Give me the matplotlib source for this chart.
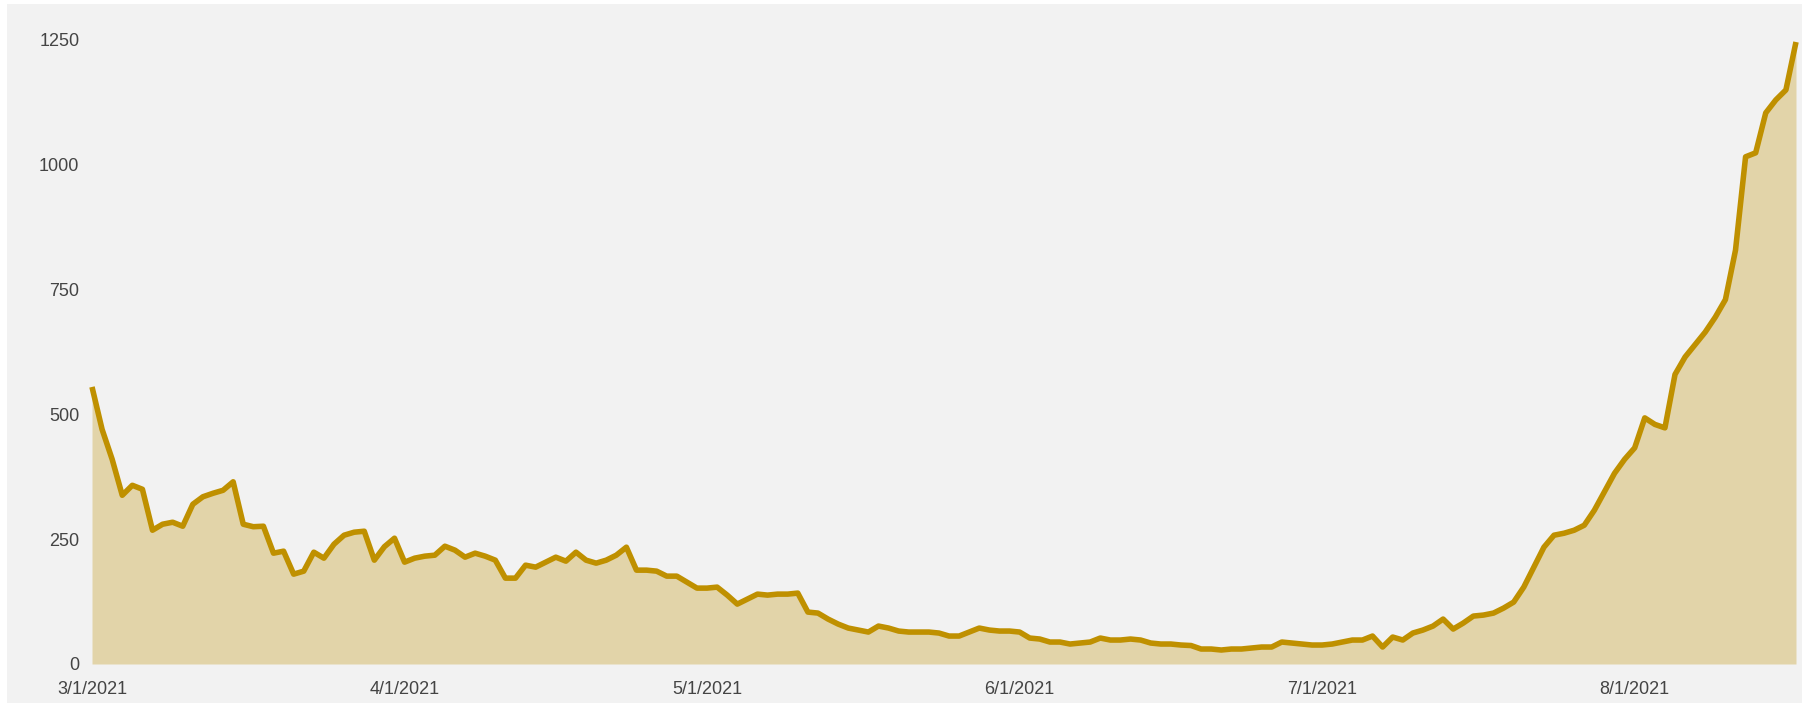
import matplotlib
matplotlib.use("Agg")
import matplotlib.pyplot as plt
from matplotlib.patches import Rectangle
import pandas as pd

start_date = "2021-03-01"
values = [
    555, 470, 410, 338, 358, 350, 268, 280, 284, 276,
    320, 335, 342, 348, 365, 280, 275, 276, 222, 226,
    180, 186, 224, 212, 240, 258, 264, 266, 208, 235,
    252, 204, 212, 216, 218, 236, 228, 214, 222, 216,
    208, 172, 172, 198, 194, 204, 214, 206, 224, 208,
    202, 208, 218, 234, 188, 188, 186, 176, 176, 164,
    152, 152, 154, 138, 120, 130, 140, 138, 140, 140,
    142, 104, 102, 90, 80, 72, 68, 64, 76, 72,
    66, 64, 64, 64, 62, 56, 56, 64, 72, 68,
    66, 66, 64, 52, 50, 44, 44, 40, 42, 44,
    52, 48, 48, 50, 48, 42, 40, 40, 38, 37,
    30, 30, 28, 30, 30, 32, 34, 34, 44, 42,
    40, 38, 38, 40, 44, 48, 48, 56, 34, 54,
    48, 62, 68, 76, 90, 70, 82, 96, 98, 102,
    112, 124, 154, 194, 234, 258, 262, 268, 278, 308,
    345, 382, 410, 433, 493, 480, 473, 580, 615, 640,
    665, 695, 730, 829, 1016, 1024, 1104, 1130, 1150, 1246,
]
ytick_values = [0, 250, 500, 750, 1000, 1250]
xtick_dates = ["2021-03-01", "2021-04-01", "2021-05-01", "2021-06-01", "2021-07-01", "2021-08-01"]
xtick_labels = ["3/1/2021", "4/1/2021", "5/1/2021", "6/1/2021", "7/1/2021", "8/1/2021"]

dates = pd.date_range(start_date, periods=len(values), freq="D")

W, H = 1802, 703
fig = plt.figure(figsize=(W / 100, H / 100), dpi=100)
fig.patch.set_facecolor("white")
bg = Rectangle((7 / W, 0), 1 - 7 / W, 1 - 4 / H, transform=fig.transFigure,
               facecolor="#f2f2f2", edgecolor="none", zorder=-10)
fig.add_artist(bg)

ax = fig.add_axes([92 / W, 1 - 664 / H, (1796 - 92) / W, (664 - 40) / H])
ax.set_facecolor("none")
ax.set_zorder(5)

line_color = "#bf9000"
ax.fill_between(dates, values, 0, color=line_color, alpha=0.3, linewidth=0)
ax.plot(dates, values, color=line_color, linewidth=4, solid_joinstyle="round",
        solid_capstyle="butt", clip_on=False)

ax.set_xlim(dates[0], dates[-1])
ax.set_ylim(0, 1250)

ax.set_yticks(ytick_values)
ax.set_yticklabels([str(v) for v in ytick_values])
ax.set_xticks([pd.Timestamp(d) for d in xtick_dates])
ax.set_xticklabels(xtick_labels)

for s in ax.spines.values():
    s.set_visible(False)
ax.tick_params(axis="both", length=0, labelsize=13, labelcolor="#444444")
ax.tick_params(axis="y", pad=9)
ax.tick_params(axis="x", pad=12)
for lab in ax.get_xticklabels() + ax.get_yticklabels():
    lab.set_fontfamily(["Liberation Sans", "DejaVu Sans"])

fig.savefig("out.png", dpi=100, facecolor=fig.get_facecolor())
